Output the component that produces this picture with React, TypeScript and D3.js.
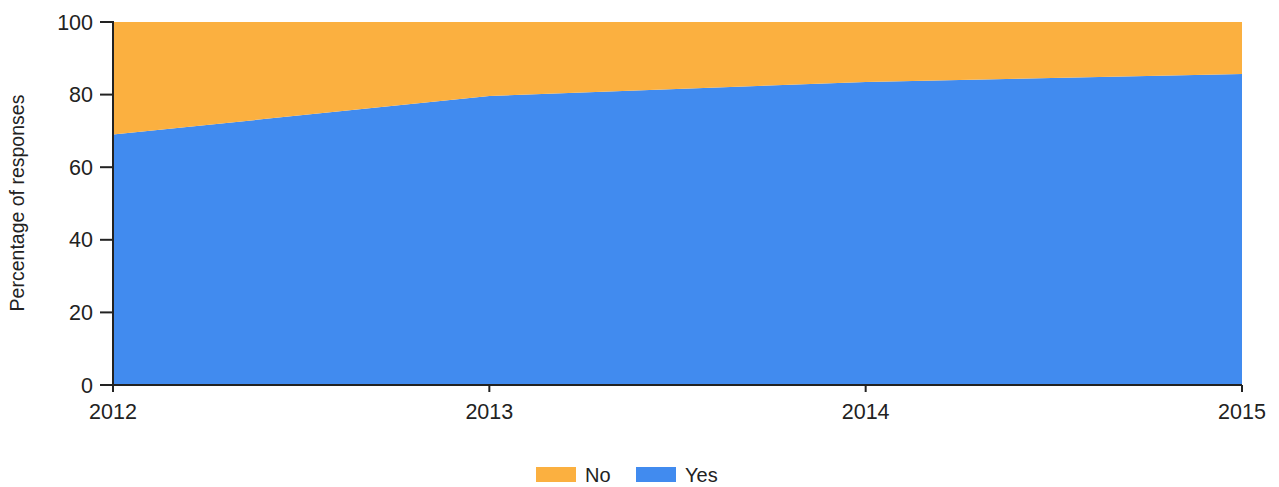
import React from "react";
import * as d3 from "d3";

const years = [2012, 2013, 2014, 2015];
const yesValues = [69, 79.6, 83.5, 85.7];
const noValues = [31, 20.4, 16.5, 14.3];
const yTicks = [0, 20, 40, 60, 80, 100];
const seriesNames = ["No", "Yes"];
const seriesColors = ["#FBB040", "#418BEF"];

export default function App() {
  const W = 1279, H = 487;
  const left = 113, right = 1242, top = 22, bottom = 385;
  const x = d3.scaleLinear().domain([2012, 2015]).range([left, right]);
  const y = d3.scaleLinear().domain([0, 100]).range([bottom, top]);
  const rows = years.map((yr, i) => ({ year: yr, Yes: yesValues[i], No: noValues[i] }));
  const stack = d3.stack<any>().keys(["Yes", "No"])(rows);
  const area = d3.area<any>()
    .x((d) => x(d.data.year))
    .y0((d) => y(d[0]))
    .y1((d) => y(d[1]));
  const colorOf: Record<string, string> = { No: seriesColors[0], Yes: seriesColors[1] };
  const font = "Liberation Sans, Arial, sans-serif";
  return (
    <svg width={W} height={H} style={{ position: "absolute", left: 0, top: 0 }} fontFamily={font}>
      {stack.map((s) => (
        <path key={s.key} d={area(s) || ""} fill={colorOf[s.key]} />
      ))}
      <line x1={left} x2={left} y1={top - 1} y2={bottom + 1} stroke="#222" strokeWidth={2} />
      <line x1={left} x2={right} y1={bottom} y2={bottom} stroke="#222" strokeWidth={2} />
      {yTicks.map((t) => (
        <g key={t}>
          <line x1={left - 13} x2={left} y1={y(t)} y2={y(t)} stroke="#222" strokeWidth={2} />
          <text x={left - 20} y={y(t)} dy="0.35em" textAnchor="end" fontSize={21.5} fill="#222">{t}</text>
        </g>
      ))}
      {years.map((yr) => (
        <g key={yr}>
          <line x1={x(yr)} x2={x(yr)} y1={bottom} y2={bottom + 7} stroke="#222" strokeWidth={2} />
          <text x={x(yr)} y={411} dy="0.35em" textAnchor="middle" fontSize={21.5} fill="#222">{yr}</text>
        </g>
      ))}
      <text transform={`translate(24,203) rotate(-90)`} textAnchor="middle" fontSize={19.5} fill="#222">Percentage of responses</text>
      {seriesNames.map((n, i) => (
        <g key={n} transform={`translate(${536 + i * 100},467)`}>
          <rect x={0} y={0} width={40} height={15} fill={seriesColors[i]} />
          <text x={49} y={8} dy="0.35em" fontSize={20} fill="#222">{n}</text>
        </g>
      ))}
    </svg>
  );
}
